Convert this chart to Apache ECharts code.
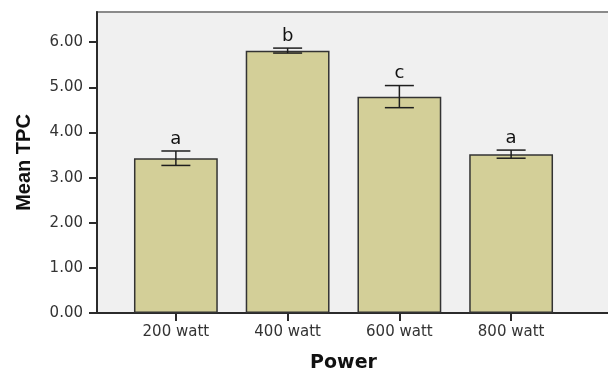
<!DOCTYPE html>
<html>
<head>
<meta charset="utf-8">
<script src="https://cdn.jsdelivr.net/npm/echarts@6/dist/echarts.min.js"></script>
<style>
  html, body { margin: 0; padding: 0; background: #fff; }
  #chart { width: 608px; height: 369px; }
</style>
</head>
<body>
<div id="chart"></div>
<script>
  // values
  var powers = ['200 watt', '400 watt', '600 watt', '800 watt'];
  var meanTPC = [3.43, 5.81, 4.79, 3.52];
  var errLow = [3.27, 5.76, 4.55, 3.43];
  var errHigh = [3.59, 5.87, 5.04, 3.61];
  var letters = ['a', 'b', 'c', 'a'];
  var yTicks = [0, 1, 2, 3, 4, 5, 6];

  var yMax = 6.67;
  var dark = '#2b2b2b';

  var errData = powers.map(function (p, i) {
    return [i, errLow[i], errHigh[i], letters[i]];
  });

  var chart = echarts.init(document.getElementById('chart'));
  chart.setOption({
    animation: false,
    backgroundColor: '#fff',
    grid: [
      // frame with the grey background
      { left: 97, top: 12, right: -3, bottom: 56, show: true, outerBoundsMode: 'none',
        backgroundColor: '#f0f0f0', borderColor: '#8a8a8a', borderWidth: 2 },
      // bars sit inside, padded on both sides like spss does
      { left: 120, top: 12, right: 41, bottom: 56, outerBoundsMode: 'none' }
    ],
    xAxis: [{
      gridIndex: 0, type: 'value', min: 0, max: 1,
      axisLine: { show: true, lineStyle: { color: dark, width: 2 } },
      axisTick: { show: false }, axisLabel: { show: false }, splitLine: { show: false }
    }, {
      gridIndex: 1, type: 'category', data: powers,
      name: 'Power', nameLocation: 'middle', nameGap: 41,
      nameTextStyle: { fontFamily: 'DejaVu Sans', fontWeight: 'bold', fontSize: 19, color: '#111' },
      axisLine: { show: false },
      axisTick: { show: true, alignWithLabel: true, length: 8, lineStyle: { color: dark, width: 2 } },
      axisLabel: { margin: 12, fontFamily: 'DejaVu Sans', fontSize: 15, color: '#333' }
    }],
    yAxis: [{
      gridIndex: 0, type: 'value', min: 0, max: yMax, interval: 1,
      name: 'Mean TPC', nameLocation: 'middle', nameGap: 63,
      nameTextStyle: { fontFamily: 'Liberation Sans', fontWeight: 'bold', fontSize: 20, color: '#111' },
      axisLine: { show: true, lineStyle: { color: dark, width: 2 } },
      axisTick: { show: true, length: 8, customValues: yTicks, lineStyle: { color: dark, width: 2 } },
      axisLabel: {
        margin: 14, fontFamily: 'DejaVu Sans', fontSize: 15, color: '#333',
        customValues: yTicks,
        formatter: function (v) { return v.toFixed(2); }
      },
      splitLine: { show: false }
    }, {
      gridIndex: 1, type: 'value', min: 0, max: yMax, show: false
    }],
    series: [{
      type: 'bar', xAxisIndex: 1, yAxisIndex: 1,
      data: meanTPC, barWidth: '75%',
      itemStyle: { color: '#d3cf98', borderColor: '#333', borderWidth: 1.5 }
    }, {
      type: 'custom', xAxisIndex: 1, yAxisIndex: 1,
      data: errData, z: 10,
      renderItem: function (params, api) {
        var top = api.coord([api.value(0), api.value(2)]);
        var bot = api.coord([api.value(0), api.value(1)]);
        var half = 14.5;
        var st = { stroke: '#1e1e1e', lineWidth: 1.5 };
        return {
          type: 'group',
          children: [
            { type: 'line', shape: { x1: top[0], y1: top[1], x2: bot[0], y2: bot[1] }, style: st },
            { type: 'line', shape: { x1: top[0] - half, y1: top[1], x2: top[0] + half, y2: top[1] }, style: st },
            { type: 'line', shape: { x1: bot[0] - half, y1: bot[1], x2: bot[0] + half, y2: bot[1] }, style: st },
            { type: 'text', x: top[0], y: top[1] - 3,
              style: { text: letters[params.dataIndex], fill: '#111', fontSize: 18,
                       fontFamily: 'DejaVu Sans', align: 'center', verticalAlign: 'bottom' } }
          ]
        };
      }
    }]
  });
</script>
</body>
</html>
